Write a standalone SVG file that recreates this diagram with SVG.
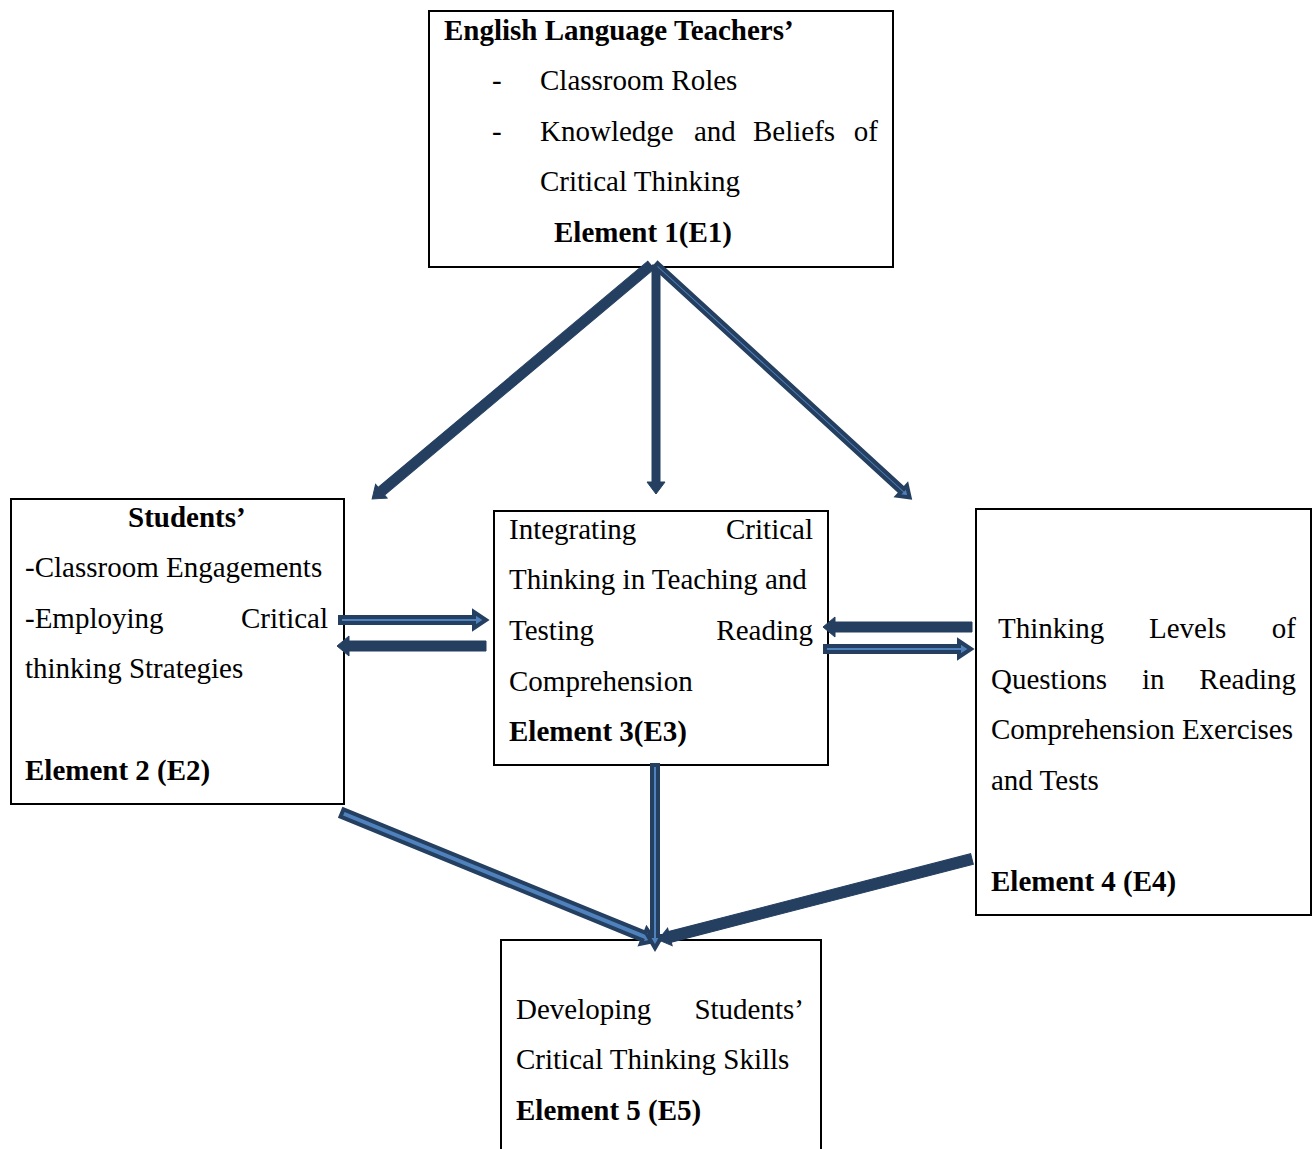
<svg xmlns="http://www.w3.org/2000/svg" width="1312" height="1149" viewBox="0 0 1312 1149">
<style>
  .box { fill: #ffffff; stroke: #000000; stroke-width: 2; }
  .t { font-family: "Liberation Serif", "Times New Roman", serif; font-size: 29px; fill: #000000; }
  .b { font-weight: bold; }
  .e { text-anchor: end; }
  .solid { fill: #243F60; stroke: #243F60; stroke-width: 1; stroke-linejoin: miter; }
  .inner { fill: #4F81BD; stroke: #243F60; stroke-width: 4; stroke-linejoin: miter; }
</style>
<rect width="1312" height="1149" fill="#ffffff"/>

<g id="E1">
  <rect class="box" x="429" y="11" width="464" height="256"/>
  <text class="t b" x="444" y="40">English Language Teachers’</text>
  <text class="t" x="492" y="90">-</text>
  <text class="t" x="540" y="90">Classroom Roles</text>
  <text class="t" x="492" y="141">-</text>
  <text class="t" x="540" y="141">Knowledge</text>
  <text class="t" x="694" y="141">and</text>
  <text class="t" x="753" y="141">Beliefs</text>
  <text class="t e" x="878" y="141">of</text>
  <text class="t" x="540" y="191">Critical Thinking</text>
  <text class="t b" x="554" y="242">Element 1(E1)</text>
</g>

<g id="E2">
  <rect class="box" x="11" y="499" width="333" height="305"/>
  <text class="t b" x="128" y="527">Students’</text>
  <text class="t" x="25" y="577">-Classroom Engagements</text>
  <text class="t" x="25" y="628">-Employing</text>
  <text class="t e" x="328" y="628">Critical</text>
  <text class="t" x="25" y="678">thinking Strategies</text>
  <text class="t b" x="25" y="780">Element 2 (E2)</text>
</g>

<g id="E3">
  <rect class="box" x="494" y="511" width="334" height="254"/>
  <text class="t" x="509" y="539">Integrating</text>
  <text class="t e" x="813" y="539">Critical</text>
  <text class="t" x="509" y="589">Thinking in Teaching and</text>
  <text class="t" x="509" y="640">Testing</text>
  <text class="t e" x="813" y="640">Reading</text>
  <text class="t" x="509" y="691">Comprehension</text>
  <text class="t b" x="509" y="741">Element 3(E3)</text>
</g>

<g id="E4">
  <rect class="box" x="976" y="509" width="335" height="406"/>
  <text class="t" x="998" y="638">Thinking</text>
  <text class="t" x="1149" y="638">Levels</text>
  <text class="t e" x="1296" y="638">of</text>
  <text class="t" x="991" y="689">Questions</text>
  <text class="t" x="1142" y="689">in</text>
  <text class="t e" x="1296" y="689">Reading</text>
  <text class="t" x="991" y="739">Comprehension Exercises</text>
  <text class="t" x="991" y="790">and Tests</text>
  <text class="t b" x="991" y="891">Element 4 (E4)</text>
</g>

<g id="E5">
  <rect class="box" x="501" y="940" width="320" height="215"/>
  <text class="t" x="516" y="1019">Developing</text>
  <text class="t e" x="804" y="1019">Students’</text>
  <text class="t" x="516" y="1069">Critical Thinking Skills</text>
  <text class="t b" x="516" y="1120">Element 5 (E5)</text>
</g>

<g id="connectors">
  <!-- E1 -> E2 -->
  <polygon class="solid" transform="translate(651,265) rotate(140)" points="0,-5 352,-5 352,-9 364,0 352,9 352,5 0,5"/>
  <!-- E1 -> E3 -->
  <polygon class="solid" transform="translate(656,265) rotate(90)" points="0,-4 217,-4 217,-9 229,0 217,9 217,4 0,4"/>
  <!-- E1 -> E4 -->
  <polygon class="inner" transform="translate(656,265) rotate(42.5)" points="0,-2.5 334,-2.5 334,-7 344,0 334,7 334,2.5 0,2.5"/>
  <!-- E2 -> E3 -->
  <polygon class="inner" transform="translate(340,620) rotate(0)" points="0,-3 134,-3 134,-8 146,0 134,8 134,3 0,3"/>
  <!-- E3 -> E2 -->
  <polygon class="solid" transform="translate(486,646) rotate(180)" points="0,-5 137,-5 137,-10 149,0 137,10 137,5 0,5"/>
  <!-- E4 -> E3 -->
  <polygon class="solid" transform="translate(972,627) rotate(180)" points="0,-5 137,-5 137,-10 149,0 137,10 137,5 0,5"/>
  <!-- E3 -> E4 -->
  <polygon class="inner" transform="translate(825,649) rotate(0)" points="0,-3 134,-3 134,-8 146,0 134,8 134,3 0,3"/>
  <!-- E2 -> E5 -->
  <polygon class="inner" transform="translate(342,813) rotate(22.24)" points="0,-4 326,-4 326,-8 338,0 326,8 326,4 0,4"/>
  <!-- E3 -> E5 -->
  <polygon class="inner" transform="translate(655,765) rotate(90)" points="0,-3 171,-3 171,-7 183,0 171,7 171,3 0,3"/>
  <!-- E4 -> E5 -->
  <polygon class="solid" transform="translate(972,859) rotate(165.54)" points="0,-5.5 312,-5.5 312,-9 324,0 312,9 312,5.5 0,5.5"/>
</g>
</svg>
